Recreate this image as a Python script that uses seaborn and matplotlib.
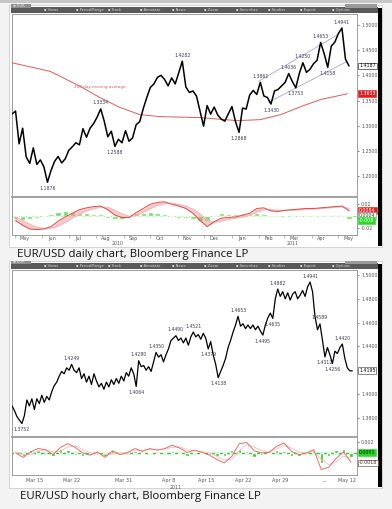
import numpy as np
import pandas as pd
import matplotlib
matplotlib.use("Agg")
import matplotlib.pyplot as plt
import matplotlib.dates as mdates
import matplotlib.transforms as mtrans
from matplotlib.patches import Rectangle
import seaborn as sns

sns.set_theme(style="white")
plt.rcParams['font.family'] = ['DejaVu Sans']

# ====================== DATA ======================
# ---- Daily EUR/USD: closes sampled every 4 calendar days from 2010-04-28
daily_start = "2010-04-28"
daily_close = [
    1.3230, 1.3290, 1.2640, 1.2950, 1.2380, 1.2250, 1.2560, 1.2230, 1.2320, 1.2180,
    1.1876, 1.2110, 1.2290, 1.2390, 1.2260, 1.2340, 1.2510, 1.2580, 1.2660, 1.2620,
    1.2940, 1.2770, 1.2950, 1.3040, 1.3170, 1.3334, 1.3090, 1.2780, 1.2890, 1.2588,
    1.2730, 1.2660, 1.2900, 1.2690, 1.2760, 1.3020, 1.3080, 1.3340, 1.3560, 1.3760,
    1.3830, 1.3960, 1.4000, 1.3920, 1.3790, 1.3950, 1.3830, 1.4050, 1.4282, 1.3770,
    1.3660, 1.3690, 1.3590, 1.3290, 1.2990, 1.3400, 1.3230, 1.3370, 1.3210, 1.3130,
    1.3090, 1.3240, 1.3380, 1.3080, 1.2868, 1.3350, 1.3330, 1.3610, 1.3700, 1.3620,
    1.3861, 1.3590, 1.3560, 1.3430, 1.3690, 1.3720, 1.3790, 1.3860, 1.4036, 1.3880,
    1.3753, 1.4040, 1.4250, 1.4060, 1.4120, 1.4230, 1.4300, 1.4653, 1.4430, 1.4158,
    1.4580, 1.4660, 1.4830, 1.4941, 1.4320, 1.4187,
]
daily_high_labels = [1.3334, 1.4282, 1.3861, 1.4036, 1.4250, 1.4653, 1.4941]
daily_low_labels = [1.1876, 1.2588, 1.2868, 1.3430, 1.3753, 1.4158]

ma200_dates = ["2010-04-28", "2010-06-10", "2010-07-14", "2010-08-05", "2010-08-28",
               "2010-09-19", "2010-10-12", "2010-11-26", "2011-01-07", "2011-02-02",
               "2011-02-25", "2011-03-20", "2011-04-11", "2011-05-11"]
ma200_values = [1.4250, 1.4080, 1.3780, 1.3560, 1.3360, 1.3220, 1.3180, 1.3160,
                1.3100, 1.3120, 1.3220, 1.3380, 1.3520, 1.3633]

channel_upper_dates = ["2011-01-31", "2011-05-01"]
channel_upper_values = [1.3881, 1.4815]
channel_lower_dates = ["2011-02-11", "2011-05-11"]
channel_lower_values = [1.3464, 1.4278]

# daily MACD-type study, sampled every 8 days from 2010-05-02
daily_ind_start = "2010-05-02"
daily_macd = [-0.008, -0.016, -0.022, -0.023, -0.022, -0.018, -0.009, -0.002, 0.004, 0.010,
              0.013, 0.015, 0.016, 0.010, 0.001, -0.003, -0.003, 0.005, 0.012, 0.019,
              0.022, 0.023, 0.019, 0.016, 0.012, 0.004, -0.008, -0.018, -0.010, -0.004,
              -0.003, -0.002, 0.001, 0.004, 0.012, 0.013, 0.008, 0.007, 0.009, 0.010,
              0.011, 0.012, 0.012, 0.013, 0.014, 0.015, 0.016, 0.008]
daily_signal = [-0.002, -0.008, -0.014, -0.019, -0.021, -0.021, -0.017, -0.011, -0.004, 0.003,
                0.008, 0.012, 0.014, 0.014, 0.009, 0.003, -0.001, 0.000, 0.006, 0.012,
                0.017, 0.020, 0.021, 0.019, 0.016, 0.011, 0.003, -0.007, -0.011, -0.009,
                -0.006, -0.004, -0.002, 0.001, 0.006, 0.010, 0.010, 0.009, 0.009, 0.009,
                0.010, 0.011, 0.011, 0.012, 0.013, 0.014, 0.015, 0.012]
daily_hist = [-0.005, -0.007, -0.006, -0.003, -0.001, 0.003, 0.006, 0.007, 0.006, 0.005,
              0.004, 0.003, 0.002, -0.003, -0.006, -0.005, -0.002, 0.004, 0.005, 0.006,
              0.004, 0.003, -0.002, -0.003, -0.004, -0.006, -0.008, -0.008, 0.001, 0.004,
              0.003, 0.002, 0.003, 0.003, 0.005, 0.003, -0.002, -0.002, 0.000, 0.001,
              0.001, 0.001, 0.001, 0.001, 0.001, 0.001, 0.001, -0.006]

daily_month_text = ["May", "Jun", "Jul", "Aug", "Sep", "Oct", "Nov", "Dec",
                    "Jan", "Feb", "Mar", "Apr", "May"]
daily_month_dates = ["2010-05-12", "2010-06-12", "2010-07-12", "2010-08-12", "2010-09-12",
                     "2010-10-12", "2010-11-12", "2010-12-12", "2011-01-12", "2011-02-12",
                     "2011-03-12", "2011-04-12", "2011-05-12"]
daily_year_text = ["2010", "2011"]
daily_year_dates = ["2010-08-25", "2011-03-10"]
daily_price_ticks = [1.20, 1.25, 1.30, 1.35, 1.40, 1.45, 1.50]
daily_last_close = 1.4187
daily_ma_last = 1.3633
daily_ind_ticks = [-0.02, 0.02]
daily_ind_last = [0.0084, 0.0004, -0.008]

# ---- Hourly EUR/USD: three samples per trading day
hourly_days = ["Mar 10", "Mar 11", "Mar 14", "Mar 15", "Mar 16", "Mar 17", "Mar 18",
               "Mar 21", "Mar 22", "Mar 23", "Mar 24", "Mar 25", "Mar 28", "Mar 29",
               "Mar 30", "Mar 31", "Apr 1", "Apr 4", "Apr 5", "Apr 6", "Apr 7", "Apr 8",
               "Apr 11", "Apr 12", "Apr 13", "Apr 14", "Apr 15", "Apr 18", "Apr 19",
               "Apr 20", "Apr 21", "Apr 22", "Apr 25", "Apr 26", "Apr 27", "Apr 28",
               "Apr 29", "May 2", "May 3", "May 4", "May 5", "May 6", "May 9", "May 10",
               "May 11", "May 12"]
hourly_close = [
    1.3900, 1.3860, 1.3810, 1.3780, 1.3752, 1.3820, 1.3950, 1.3900, 1.3960,
    1.3870, 1.3960, 1.3920, 1.3990, 1.3930, 1.3980, 1.3950, 1.4020, 1.4070,
    1.4100, 1.4150, 1.4190, 1.4170, 1.4220, 1.4200, 1.4249, 1.4200, 1.4180,
    1.4220, 1.4130, 1.4170, 1.4100, 1.4150, 1.4080, 1.4170, 1.4110, 1.4060,
    1.4090, 1.4040, 1.4100, 1.4060, 1.4120, 1.4080, 1.4130, 1.4090, 1.4150,
    1.4110, 1.4180, 1.4150, 1.4220, 1.4170, 1.4064, 1.4280, 1.4230, 1.4240,
    1.4200, 1.4230, 1.4190, 1.4270, 1.4350, 1.4310, 1.4330, 1.4270, 1.4330,
    1.4380, 1.4450, 1.4470, 1.4490, 1.4450, 1.4470, 1.4430, 1.4470, 1.4410,
    1.4480, 1.4521, 1.4480, 1.4500, 1.4460, 1.4510, 1.4470, 1.4379, 1.4440,
    1.4330, 1.4250, 1.4138, 1.4190, 1.4240, 1.4300, 1.4390, 1.4450, 1.4520,
    1.4580, 1.4653, 1.4570, 1.4590, 1.4550, 1.4580, 1.4550, 1.4580, 1.4540,
    1.4570, 1.4530, 1.4495, 1.4580, 1.4640, 1.4680, 1.4635, 1.4800, 1.4882,
    1.4820, 1.4860, 1.4800, 1.4850, 1.4790, 1.4840, 1.4860, 1.4800, 1.4830,
    1.4870, 1.4820, 1.4900, 1.4941, 1.4860, 1.4650, 1.4540, 1.4589, 1.4450,
    1.4312, 1.4390, 1.4330, 1.4256, 1.4360, 1.4340, 1.4390, 1.4420, 1.4300,
    1.4220, 1.4195, 1.4195,
]
hourly_high_labels = [1.4249, 1.4280, 1.4350, 1.4490, 1.4521, 1.4653, 1.4882, 1.4941, 1.4589, 1.4420]
hourly_low_labels = [1.3752, 1.4064, 1.4379, 1.4138, 1.4495, 1.4635, 1.4312, 1.4256]

hourly_macd = [0.0000, -0.0008, 0.0002, 0.0008, 0.0006, -0.0003, 0.0010, 0.0017, 0.0010, 0.0000,
               -0.0004, 0.0002, -0.0008, 0.0004, -0.0003, 0.0001, 0.0008, 0.0003, 0.0008, 0.0005,
               0.0008, 0.0014, 0.0009, 0.0001, 0.0005, 0.0001, -0.0004, -0.0012, -0.0018, -0.0006,
               0.0017, 0.0019, 0.0004, 0.0000, 0.0001, 0.0012, 0.0018, 0.0003, -0.0003, 0.0000,
               0.0006, -0.0030, -0.0026, -0.0010, 0.0002, -0.0017]
hourly_signal = [0.0002, -0.0003, -0.0003, 0.0003, 0.0006, 0.0002, 0.0003, 0.0011, 0.0013, 0.0006,
                 0.0000, -0.0001, -0.0003, -0.0001, 0.0000, -0.0001, 0.0004, 0.0005, 0.0006, 0.0006,
                 0.0007, 0.0010, 0.0011, 0.0006, 0.0004, 0.0003, 0.0000, -0.0006, -0.0013, -0.0011,
                 0.0004, 0.0015, 0.0011, 0.0004, 0.0002, 0.0007, 0.0014, 0.0009, 0.0002, 0.0000,
                 0.0003, -0.0012, -0.0021, -0.0016, -0.0006, -0.0010]
hourly_hist = [-0.0002, -0.0005, 0.0005, 0.0005, 0.0000, -0.0005, 0.0007, 0.0006, -0.0003, -0.0006,
               -0.0004, 0.0003, -0.0005, 0.0005, -0.0003, 0.0002, 0.0004, -0.0002, 0.0002, -0.0001,
               0.0001, 0.0004, -0.0002, -0.0005, 0.0001, -0.0002, -0.0004, -0.0006, -0.0005, 0.0005,
               0.0008, 0.0004, -0.0007, -0.0004, -0.0001, 0.0005, 0.0004, -0.0006, -0.0005, 0.0000,
               0.0003, -0.0018, -0.0005, 0.0006, 0.0008, -0.0007]

hourly_tick_days = ["Mar 15", "Mar 22", "Mar 31", "Apr 8", "Apr 15", "Apr 22", "Apr 29", "May 9", "May 12"]
hourly_tick_text = ["Mar 15", "Mar 22", "Mar 31", "Apr 8", "Apr 15", "Apr 22", "Apr 29", "...", "May 12"]
hourly_year_day = "Apr 11"
hourly_year_text = "2011"
hourly_price_ticks = [1.38, 1.40, 1.42, 1.44, 1.46, 1.48, 1.50]
hourly_last_close = 1.4195
hourly_ind_ticks = [-0.002, 0.002]
hourly_ind_last = [0.0001, -0.0018]

toolbar_items = ["Views", "Period/Range", "Track", "Annotate", "News", "Zoom",
                 "Securities", "Studies", "Export", "Options"]

# ====================== FIGURE ======================
W, H = 392, 509
fig = plt.figure(figsize=(W / 100, H / 100), dpi=100, facecolor='#f3f3f3')


def box(x0, y0, x1, y1):
    return [x0 / W, 1 - y1 / H, (x1 - x0) / W, (y1 - y0) / H]


def rect(x0, y0, x1, y1, z=-2, **kw):
    fig.patches.append(Rectangle((x0 / W, 1 - y1 / H), (x1 - x0) / W, (y1 - y0) / H,
                                 transform=fig.transFigure, figure=fig, zorder=z, **kw))


def style(ax):
    ax.set_zorder(2)
    ax.set_facecolor('white')
    ax.grid(False)
    for s in ax.spines.values():
        s.set_color('#8e8e8e')
        s.set_linewidth(0.6)


def panel(y0, y1):
    rect(9, y0, 382, y1, z=-3, fc='white', ec='#c4c4c4', lw=0.5)
    rect(11, y0 + 2, 378, y0 + 8, fc='#5a5a5a', ec='none')
    rect(11, y0 - 0.5, 31, y0 + 2.5, fc='#8d8d8d', ec='none')
    rect(345, y0 - 0.5, 377, y0 + 2.5, fc='#9a9a9a', ec='none')
    rect(378, y0 + 3, 381.5, y1 - 1, fc='black', ec='none')
    fig.text(13 / W, 1 - (y0 + 1) / H, "\u2261 EUR", fontsize=2.6, color='#eeeeee', va='center')
    for k, item in enumerate(toolbar_items):
        fig.text((44 + k * 32) / W, 1 - (y0 + 5) / H, "\u25aa " + item, fontsize=2.6,
                 color='#d8d8d8', va='center')


def right_boxes(ax, vals, texts, fcs, tcs, ecs):
    trans = mtrans.blended_transform_factory(ax.transAxes, ax.transData)
    for v, t, fc, tc, ec in zip(vals, texts, fcs, tcs, ecs):
        ax.text(1.006, v, t, transform=trans, fontsize=3.4, va='center', ha='left', color=tc,
                clip_on=False, zorder=6,
                bbox=dict(boxstyle='square,pad=0.18', fc=fc, ec=ec, lw=0.4))


def right_ticks(ax, ticks, fmt, hidden=()):
    ax.yaxis.tick_right()
    ax.set_yticks(ticks)
    ax.set_yticklabels(["" if v in hidden else fmt.format(v) for v in ticks])
    ax.tick_params(axis='y', labelsize=3.4, colors='#555555', length=1.5, width=0.5, pad=1.5)


rect(0, 0, 392, 3, fc='#c6c6c6', ec='none')
panel(5, 247)
panel(261, 488)

# ---------------- Daily main ----------------
d_dates = pd.date_range(daily_start, periods=len(daily_close), freq="4D")
d_x0, d_x1 = pd.Timestamp("2010-04-28"), pd.Timestamp("2011-05-22")

ax1 = fig.add_axes(box(12, 14, 357, 197))
style(ax1)
sns.lineplot(x=d_dates, y=daily_close, ax=ax1, color='black', lw=1.1, zorder=4)
sns.lineplot(x=pd.to_datetime(ma200_dates), y=ma200_values, ax=ax1, color='#e25a5a', lw=0.7, zorder=3)
ax1.plot(pd.to_datetime(channel_upper_dates), channel_upper_values, color='#a3a3e0', lw=0.6, zorder=3)
ax1.plot(pd.to_datetime(channel_lower_dates), channel_lower_values, color='#a3a3e0', lw=0.6, zorder=3)
ax1.text(mdates.date2num(pd.Timestamp("2010-08-05")), 1.3765, "200 day moving average",
         fontsize=3.0, color='#e25a5a', ha='center', va='center')
for v in daily_high_labels:
    i = daily_close.index(v)
    ax1.annotate(f"{v:.4f}", (d_dates[i], v), xytext=(0, 2.5), textcoords='offset points',
                 ha='center', va='bottom', fontsize=3.3, color='#3a3a50')
for v in daily_low_labels:
    i = daily_close.index(v)
    ax1.annotate(f"{v:.4f}", (d_dates[i], v), xytext=(0, -2.5), textcoords='offset points',
                 ha='center', va='top', fontsize=3.3, color='#3a3a50')
ax1.set_xlim(d_x0, d_x1)
ax1.set_ylim(1.1583, 1.5219)
right_ticks(ax1, daily_price_ticks, "{:.4f}")
ax1.tick_params(axis='x', bottom=False, labelbottom=False)
ax1.set_xlabel("")
ax1.set_ylabel("")
right_boxes(ax1, [daily_last_close, daily_ma_last], [f"{daily_last_close:.4f}", f"{daily_ma_last:.4f}"],
            ['white', '#e02020'], ['black', 'white'], ['black', '#e02020'])

# ---------------- Daily indicator ----------------
di_dates = pd.date_range(daily_ind_start, periods=len(daily_macd), freq="8D")
ax2 = fig.add_axes(box(12, 197, 357, 235))
style(ax2)
ax2.spines['top'].set_color('#a0a0a0')
ax2.spines['top'].set_linewidth(1.4)
ax2.axhline(0, color='#7de07d', lw=0.6, zorder=1)
ax2.bar(di_dates, daily_hist, width=6, color='#55dd55', alpha=0.85, zorder=2)
ax2.fill_between(di_dates, daily_macd, daily_signal, color='#f08c8c', alpha=0.45, lw=0, zorder=3)
sns.lineplot(x=di_dates, y=daily_signal, ax=ax2, color='#f4b8b8', lw=0.8, zorder=4)
sns.lineplot(x=di_dates, y=daily_macd, ax=ax2, color='#e04848', lw=0.7, zorder=5)
ax2.set_xlim(d_x0, d_x1)
ax2.set_ylim(-0.032, 0.031)
right_ticks(ax2, daily_ind_ticks, "{:g}")
ax2.set_xticks(mdates.date2num(pd.to_datetime(daily_month_dates)))
ax2.set_xticklabels(daily_month_text)
ax2.xaxis.set_minor_locator(mdates.MonthLocator())
ax2.tick_params(axis='x', which='major', length=0, labelsize=3.5, colors='#555555', pad=0.8)
ax2.tick_params(axis='x', which='minor', length=1.8, width=0.4, color='#888888', bottom=True)
tr2 = mtrans.blended_transform_factory(ax2.transData, ax2.transAxes)
for t, d in zip(daily_year_text, daily_year_dates):
    ax2.text(mdates.date2num(pd.Timestamp(d)), -0.22, t, transform=tr2, fontsize=3.4,
             color='#555555', ha='center', va='center', clip_on=False)
ax2.set_xlabel("")
ax2.set_ylabel("")
right_boxes(ax2, daily_ind_last, ["0.0084", "0.0004", "-0.008"],
            ['#e02020', 'white', '#22dd22'], ['white', '#333333', 'white'],
            ['#e02020', '#888888', '#22dd22'])

# ---------------- Hourly main ----------------
hx = np.arange(len(hourly_close)) / 3.0
ax3 = fig.add_axes(box(12, 270, 357, 437))
style(ax3)
sns.lineplot(x=hx, y=hourly_close, ax=ax3, color='black', lw=0.9, zorder=4)
for v in hourly_high_labels:
    i = hourly_close.index(v)
    ax3.annotate(f"{v:.4f}", (hx[i], v), xytext=(0, 2.5), textcoords='offset points',
                 ha='center', va='bottom', fontsize=3.3, color='#3a3a50')
for v in hourly_low_labels:
    i = hourly_close.index(v)
    ax3.annotate(f"{v:.4f}", (hx[i], v), xytext=(0, -2.5), textcoords='offset points',
                 ha='center', va='top', fontsize=3.3, color='#3a3a50')
ax3.set_xlim(0, 46.3)
ax3.set_ylim(1.3639, 1.5042)
right_ticks(ax3, hourly_price_ticks, "{:.4f}", hidden=(1.42,))
ax3.tick_params(axis='x', bottom=False, labelbottom=False)
ax3.set_xlabel("")
ax3.set_ylabel("")
right_boxes(ax3, [hourly_last_close], [f"{hourly_last_close:.4f}"], ['white'], ['black'], ['#333333'])

# ---------------- Hourly indicator ----------------
hix = np.arange(len(hourly_macd)) + 0.5
ax4 = fig.add_axes(box(12, 437, 357, 475))
style(ax4)
ax4.spines['top'].set_color('#a0a0a0')
ax4.spines['top'].set_linewidth(1.4)
ax4.axhline(0, color='#22cc22', lw=1.0, zorder=2)
ax4.bar(hix, hourly_hist, width=0.45, color='#22cc22', zorder=2)
sns.lineplot(x=hix, y=hourly_signal, ax=ax4, color='#f5bcbc', lw=0.6, zorder=3)
sns.lineplot(x=hix, y=hourly_macd, ax=ax4, color='#e86c6c', lw=0.7, zorder=4)
ax4.set_xlim(0, 46.3)
ax4.set_ylim(-0.0040, 0.0029)
right_ticks(ax4, hourly_ind_ticks, "{:.3f}", hidden=(-0.002,))
ax4.set_xticks([hourly_days.index(d) for d in hourly_tick_days])
ax4.set_xticklabels(hourly_tick_text)
ax4.tick_params(axis='x', which='major', length=1.5, width=0.4, labelsize=3.5,
                colors='#555555', pad=0.8)
tr4 = mtrans.blended_transform_factory(ax4.transData, ax4.transAxes)
ax4.text(hourly_days.index(hourly_year_day), -0.33, hourly_year_text, transform=tr4, fontsize=3.4,
         color='#555555', ha='center', va='center', clip_on=False)
ax4.set_xlabel("")
ax4.set_ylabel("")
right_boxes(ax4, hourly_ind_last, ["0.0001", "-0.0018"], ['#22dd22', 'white'],
            ['black', '#333333'], ['#22dd22', '#7a2020'])

# ---------------- Captions ----------------
cap_font = ['Open Sans', 'DejaVu Sans']
fig.text(17 / W, 1 - 254 / H, "EUR/USD daily chart, Bloomberg Finance LP", fontsize=8.2,
         family=cap_font, color='#111111', va='center', ha='left')
fig.text(20 / W, 1 - 497 / H, "EUR/USD hourly chart, Bloomberg Finance LP", fontsize=8.2,
         family=cap_font, color='#111111', va='center', ha='left')

fig.savefig("out.png", dpi=100, facecolor=fig.get_facecolor())
